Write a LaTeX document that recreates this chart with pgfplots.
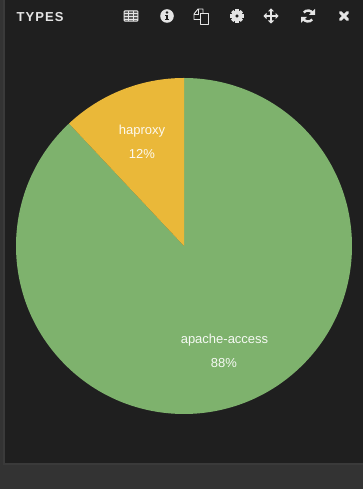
\documentclass[border=0pt]{standalone}
\usepackage{pgfplots}
\pgfplotsset{compat=1.18}
\usepackage{fontspec}
\setmainfont{Liberation Sans}
\definecolor{panelbg}{HTML}{1F1F1F}
\definecolor{pagebg}{HTML}{333333}
\definecolor{edgeln}{HTML}{3A3A3A}
\definecolor{sliceA}{HTML}{7EB26D}
\definecolor{sliceB}{HTML}{EAB839}
\definecolor{iconfg}{HTML}{E4E4E4}
% slice shares in percent
\def\shareHaproxy{12}
\def\shareApache{88}
\def\pieR{168}
\pgfmathsetmacro{\angB}{3.6*\shareHaproxy}
\pgfmathsetmacro{\angA}{3.6*\shareApache}
\begin{document}
\begin{tikzpicture}
\begin{axis}[
  name=panel, hide axis, scale only axis, width=363pt, height=489pt,
  xmin=0, xmax=363, ymin=0, ymax=489, clip=false]
  % page and panel
  \addplot[draw=none, fill=pagebg, forget plot] coordinates {(0,0)(363,0)(363,489)(0,489)} -- cycle;
  \addplot[draw=none, fill=edgeln, forget plot] coordinates {(3,24)(363,24)(363,489)(3,489)} -- cycle;
  \addplot[draw=none, fill=panelbg, forget plot] coordinates {(5,26)(363,26)(363,489)(5,489)} -- cycle;
  % pie
  \fill[sliceA] (axis cs:184,243) -- ++(90+\angB:\pieR pt) arc[start angle=90+\angB, delta angle=\angA, radius=\pieR pt] -- cycle;
  \fill[sliceB] (axis cs:184,243) -- ++(90:\pieR pt) arc[start angle=90, delta angle=\angB, radius=\pieR pt] -- cycle;
  % slice labels
  \node[text=white!92!sliceB, font=\fontsize{13}{14}\selectfont] at (axis cs:142,358) {haproxy};
  \node[text=white!92!sliceB, font=\fontsize{13}{14}\selectfont] at (axis cs:142,335) {12\%};
  \node[text=white!92!sliceA, font=\fontsize{13}{14}\selectfont] at (axis cs:224.5,149) {apache-access};
  \node[text=white!92!sliceA, font=\fontsize{13}{14}\selectfont] at (axis cs:224,126) {88\%};
  % panel title
  \node[anchor=west, text=iconfg, inner sep=0pt, font=\fontsize{13}{14}\bfseries\selectfont] at (axis cs:16.5,472) {\addfontfeature{LetterSpace=8}TYPES};
\end{axis}
% toolbar: table
\begin{scope}[shift={(131pt,473pt)}, x=1pt, y=1pt]
  \fill[black!65, rounded corners=1pt] (-7,-5.5) rectangle (7,5.5);
  \draw[iconfg, line width=1pt, rounded corners=.8pt] (-6.8,-5.2) rectangle (6.8,5.2);
  \draw[iconfg, line width=.8pt] (-6.8,2.5) -- (6.8,2.5) (-6.8,-.3) -- (6.8,-.3) (-6.8,-3) -- (6.8,-3) (-2.3,5) -- (-2.3,-5) (2.3,5) -- (2.3,-5);
\end{scope}
% toolbar: info
\begin{scope}[shift={(167pt,473pt)}, x=1pt, y=1pt]
  \fill[iconfg] (0,0) circle (6.8pt);
  \fill[panelbg] (0,3.4) circle (1.4pt);
  \fill[panelbg] (-1.9,1.2) rectangle (1.3,-.2);
  \fill[panelbg] (-.9,1) rectangle (1.3,-3.3);
  \fill[panelbg] (-1.9,-2.6) rectangle (2,-4);
\end{scope}
% toolbar: copy
\begin{scope}[shift={(201pt,473pt)}, x=1pt, y=1pt]
  \draw[iconfg, line width=.9pt, line join=round] (-1,-3.5) -- (-7,-3.5) -- (-7,2) -- (-3,7) -- (2,7) -- (2,3);
  \draw[iconfg, line width=.9pt] (-3,7) -- (-3,2) -- (-7,2);
  \draw[iconfg, fill=panelbg, line width=.9pt, line join=round] (-1,-8) -- (7.5,-8) -- (7.5,3) -- (-1,3) -- cycle;
\end{scope}
% toolbar: settings
\begin{scope}[shift={(237pt,473pt)}, x=1pt, y=1pt]
  \draw[iconfg, line width=4pt] (0,0) circle (3.8pt);
  \foreach \t in {0,45,...,315} {
    \fill[iconfg, rotate=\t] (-1.6,4) rectangle (1.6,6.8);
  }
\end{scope}
% toolbar: move
\begin{scope}[shift={(271pt,473pt)}, x=1pt, y=1pt]
  \draw[iconfg, line width=1.8pt] (-6,0) -- (6,0) (0,-6) -- (0,6);
  \foreach \t in {0,90,180,270} {
    \fill[iconfg, rotate=\t] (7.5,0) -- (4.5,3.2) -- (4.5,-3.2) -- cycle;
  }
\end{scope}
% toolbar: refresh
\begin{scope}[shift={(308pt,473pt)}, x=1pt, y=1pt]
  \draw[iconfg, line width=2.4pt] (140:5.5pt) arc[start angle=140, end angle=30, radius=5.5pt];
  \draw[iconfg, line width=2.4pt] (-40:5.5pt) arc[start angle=-40, end angle=-150, radius=5.5pt];
  \fill[iconfg] (7,7) -- (7,1) -- (1,1) -- cycle;
  \fill[iconfg] (-7,-7) -- (-7,-1) -- (-1,-1) -- cycle;
\end{scope}
% toolbar: close
\begin{scope}[shift={(344pt,473pt)}, x=1pt, y=1pt]
  \draw[iconfg, line width=3pt, line cap=round] (-3.5,-3.5) -- (3.5,3.5) (-3.5,3.5) -- (3.5,-3.5);
\end{scope}
% page size is exactly the panel frame
\pgfresetboundingbox
\useasboundingbox (0,0) rectangle (363pt,489pt);
\end{tikzpicture}
\end{document}
